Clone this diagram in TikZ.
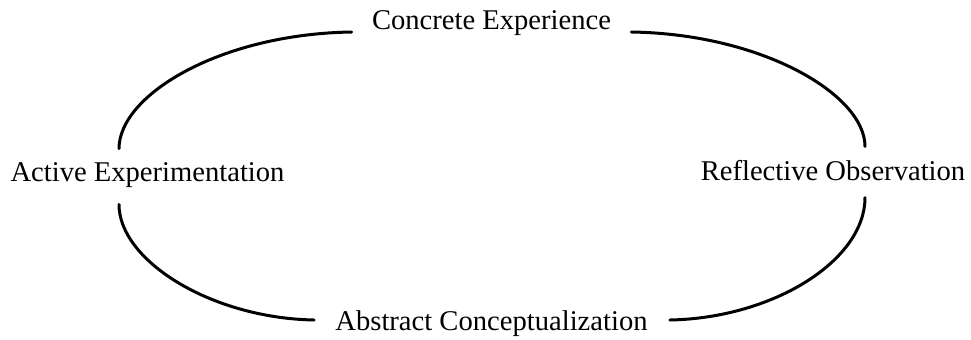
\documentclass[tikz,border=0pt]{standalone}
\usepackage{fontspec}
\setmainfont{Liberation Serif}
\begin{document}
\begin{tikzpicture}[x=0.5pt, y=-0.5pt,
        every node/.style={font=\fontsize{14.3}{17}\selectfont, inner sep=0pt, anchor=base},
        cyclearc/.style={line width=1.5pt, line cap=round}]
        % Frame of the page
        \useasboundingbox (0,0) rectangle (971,339);

        % The four stages
        \node (concrete) at (491.5,29) {Concrete Experience};
        \node (reflective) at (833,180) {Reflective Observation};
        \node (abstract) at (491.5,330) {Abstract Conceptualization};
        \node (active) at (147.5,181) {Active Experimentation};

        % Arcs of the cycle
        \draw[cyclearc] ([xshift=-10pt,yshift=-1.5pt]concrete.base west)
            .. controls (220,34) and (119,95) .. ([xshift=-14.25pt,yshift=6.5pt]active.north);
        \draw[cyclearc] ([xshift=10pt,yshift=-1.5pt]concrete.base east)
            .. controls (763,34) and (865,95) .. ([xshift=16pt,yshift=6.5pt]reflective.north);
        \draw[cyclearc] ([xshift=-14.25pt,yshift=-8.5pt]active.south)
            .. controls (119,260) and (210,318) .. ([xshift=-10.5pt,yshift=5pt]abstract.base west);
        \draw[cyclearc] ([xshift=11pt,yshift=5pt]abstract.base east)
            .. controls (774,318) and (865,260) .. ([xshift=16pt,yshift=-8.5pt]reflective.south);
\end{tikzpicture}
\end{document}
